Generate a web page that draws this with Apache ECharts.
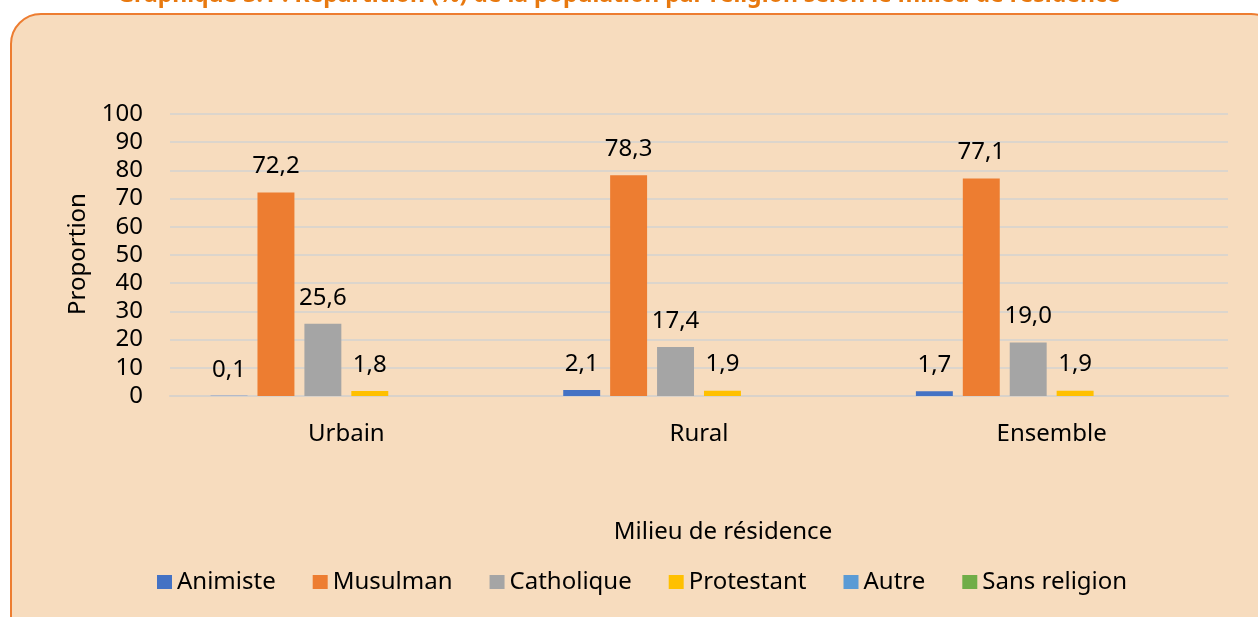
<!DOCTYPE html>
<html><head><meta charset="utf-8">
<script src="https://cdn.jsdelivr.net/npm/echarts@6/dist/echarts.min.js"></script>
<style>html,body{margin:0;padding:0;background:#fff}#c{width:1258px;height:617px}</style>
</head><body><div id="c"></div>
<script>
const categories = ['Urbain', 'Rural', 'Ensemble'];
const seriesNames = ['Animiste', 'Musulman', 'Catholique', 'Protestant', 'Autre', 'Sans religion'];
const animiste = [0.1, 2.1, 1.7];
const musulman = [72.2, 78.3, 77.1];
const catholique = [25.6, 17.4, 19.0];
const protestant = [1.8, 1.9, 1.9];
const autre = [null, null, null];
const sansReligion = [null, null, null];
const colors = ['#4472C4', '#ED7D31', '#A5A5A5', '#FFC000', '#5B9BD5', '#70AD47'];
const FONT = 'Noto Sans';

const allData = [animiste, musulman, catholique, protestant, autre, sansReligion];
const chart = echarts.init(document.getElementById('c'));
chart.setOption({
  animation: false,
  color: colors,
  textStyle: {fontFamily: FONT},
  graphic: [
    {type: 'rect', z: -10, shape: {x: 11, y: 14, width: 1270, height: 640, r: 30},
     style: {fill: '#F7DCBE', stroke: '#ED7D31', lineWidth: 2}},
    {type: 'text', z: 10, x: 619, y: -16,
     style: {text: 'Graphique 3.1 : Répartition (%) de la population par religion selon le milieu de résidence',
       fill: '#E8790F', font: 'bold 23px "Noto Sans"', align: 'center', verticalAlign: 'top'}},
    {type: 'text', x: 723, y: 532,
     style: {text: 'Milieu de résidence', fill: '#000', font: '24px "Noto Sans"', align: 'center', verticalAlign: 'middle'}},
    {type: 'text', x: 78, y: 254, rotation: Math.PI / 2,
     style: {text: 'Proportion', fill: '#000', font: '24px "Noto Sans"', align: 'center', verticalAlign: 'middle'}}
  ],
  grid: {left: 170, right: 30, top: 114, bottom: 221, containLabel: false},
  legend: {
    data: seriesNames, bottom: 18, left: 152, itemWidth: 15, itemHeight: 14, itemGap: 37,
    icon: 'rect', textStyle: {fontSize: 24, color: '#000', fontFamily: FONT}
  },
  xAxis: {
    type: 'category', data: categories,
    axisLine: {lineStyle: {color: '#D9D2CA', width: 2}}, axisTick: {show: false},
    axisLabel: {fontSize: 24, color: '#000', margin: 26, fontFamily: FONT}
  },
  yAxis: {
    type: 'value', min: 0, max: 100, interval: 10,
    axisLine: {show: false}, axisTick: {show: false},
    splitLine: {lineStyle: {color: '#DCD5CC', width: 2}},
    axisLabel: {fontSize: 24, color: '#000', margin: 27, fontFamily: FONT}
  },
  series: seriesNames.map((n, i) => ({
    name: n, type: 'bar', data: allData[i],
    barGap: '27%', barCategoryGap: '23%',
    label: {show: true, position: 'top', distance: 14, fontSize: 24, color: '#000', fontFamily: FONT,
      formatter: p => p.value == null ? '' : p.value.toFixed(1).replace('.', ',')}
  }))
});
</script></body></html>
